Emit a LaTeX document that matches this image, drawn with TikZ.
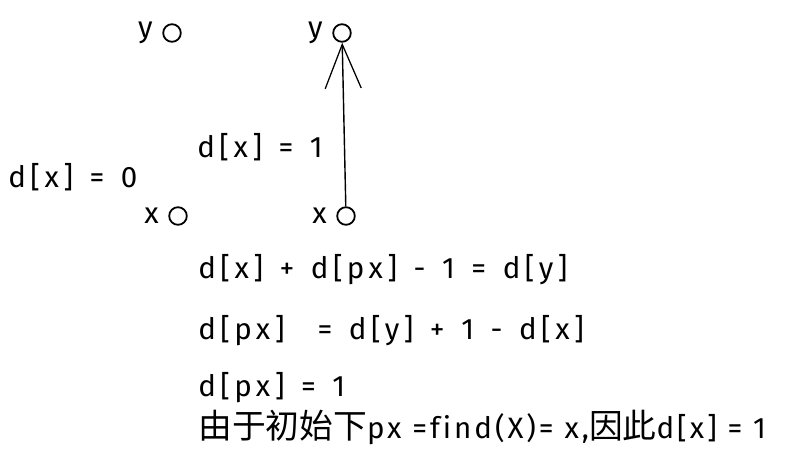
\documentclass[tikz,border=0pt]{standalone}
\usepackage{fontspec}
\setmainfont{Fira Sans}
\newfontfamily\hand[LetterSpace=15, WordSpace=1.35, Ligatures=CommonOff]{Fira Sans}
\newfontfamily\handnarrow[LetterSpace=10, Ligatures=CommonOff]{Fira Sans}
\newfontfamily\cjk{Noto Sans CJK SC}
\usetikzlibrary{arrows.meta,positioning}
\tikzset{
  vtx/.style={draw, circle, line width=1.3pt, minimum size=0.44cm, inner sep=0pt},
  vname/.style={font=\hand\fontsize{21}{24}\selectfont, inner sep=1pt},
  eqn/.style={font=\hand\fontsize{21}{24}\selectfont, anchor=west, inner sep=0pt},
  note/.style={font=\handnarrow\fontsize{21}{24}\selectfont, anchor=west, inner sep=0pt},
  arr/.style={-{Straight Barb[length=11mm, width=9mm, line width=0.9pt]}, line width=1pt},
}
\newcommand{\hz}[1]{{\cjk\fontsize{24}{28}\selectfont #1}}
\begin{document}
\begin{tikzpicture}[x=0.025cm, y=-0.025cm, node distance=2mm]
  \useasboundingbox (0,0) rectangle (800,461);
  % vertices before the union
  \node[vtx] (ya) at (172,33) {};
  \node[vtx] (xa) at (178,216) {};
  \node[vname, left=of ya] (yaname) {y};
  \node[vname, left=of xa] (xaname) {x};
  % vertices after the union
  \node[vtx] (yb) at (342,33) {};
  \node[vtx] (xb) at (346,216) {};
  \node[vname, left=of yb] (ybname) {y};
  \node[vname, left=of xb] (xbname) {x};
  \draw[arr] (xb) -- (yb);
  % distances
  \node[eqn] (d0) at (8,177) {d[x] = 0};
  \node[eqn] (d1) at (197,147) {d[x] = 1};
  % derivation
  \node[eqn] (l1) at (198,270) {d[x] + d[px] - 1 = d[y]};
  \node[eqn] (l2) at (198,331) {d[px] \ = d[y] + 1 - d[x]};
  \node[eqn] (l3) at (198,388) {d[px] = 1};
  \node[note] (l4) at (198,427) {\hz{由于初始下}px =find(X)= x,\hz{因此}d[x] = 1};
\end{tikzpicture}
\end{document}
